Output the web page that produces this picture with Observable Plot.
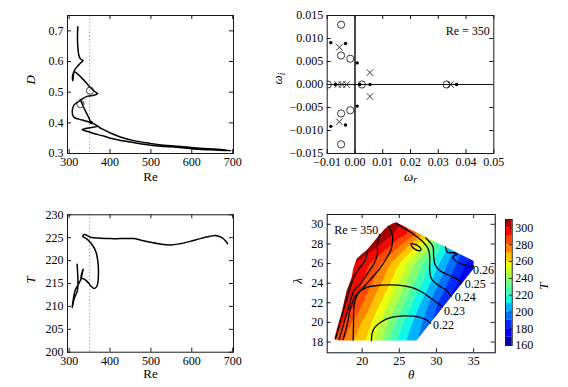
<!DOCTYPE html>
<html>
<head>
<meta charset="utf-8">
<script src="https://cdn.jsdelivr.net/npm/d3@7"></script>
<script src="https://cdn.jsdelivr.net/npm/@observablehq/plot@0.6"></script>
<style>
html,body{margin:0;padding:0;background:#fff;}
#wrap{position:relative;width:568px;height:387px;overflow:hidden;background:#fff;}
#wrap svg, #wrap svg g, #wrap svg text, #wrap svg tspan{font-family:'Liberation Serif','DejaVu Serif',serif !important;}
</style>
</head>
<body>
<div id="wrap"></div>
<script>
// ---------------- data ----------------
const reRef = 350;

// Panel 1: D vs Re (one continuation branch, in path order)
const p1Re = [321.2, 320.4, 321.2, 323.6, 327.7, 334.2, 329.3, 321.2, 314.7, 310.6, 308.1, 309.0, 310.0, 313.0, 321.2, 331.8, 342.3, 352.1, 361.9, 370.0, 360.3, 345.6, 334.2, 326.1, 317.9, 311.4, 308.1, 308.1, 313.0, 323.6, 337.5, 350.5, 361.9, 370.0, 355.0, 331.8, 345.6, 360.3, 384.7, 401.0, 441.7, 482.4, 523.1, 563.8, 604.6, 645.3, 695.8, 661.5, 620.8, 580.1, 539.4, 498.7, 458.0, 425.4, 401.0, 380.6, 370.0, 361.9, 353.7, 348.0, 341.5, 335.8, 330.9, 327.0];
const p1D = [0.713, 0.680, 0.648, 0.621, 0.608, 0.603, 0.597, 0.586, 0.575, 0.563, 0.550, 0.537, 0.550, 0.566, 0.559, 0.545, 0.530, 0.515, 0.503, 0.495, 0.490, 0.487, 0.480, 0.472, 0.465, 0.457, 0.443, 0.428, 0.417, 0.412, 0.407, 0.402, 0.396, 0.389, 0.385, 0.378, 0.372, 0.365, 0.357, 0.350, 0.339, 0.330, 0.324, 0.320, 0.315, 0.312, 0.309, 0.314, 0.317, 0.322, 0.326, 0.333, 0.342, 0.354, 0.367, 0.380, 0.389, 0.396, 0.401, 0.417, 0.434, 0.450, 0.465, 0.476];
const p1CircleRe = [351.0, 327.7];
const p1CircleD = [0.505, 0.461];
const p1DotRe = [353.7];
const p1DotD = [0.401];

// Panel 3: T vs Re
const p3Re = [319.5, 320.4, 313.0, 307.3, 309.8, 314.7, 321.2, 327.7, 334.2, 329.3, 335.8, 345.6, 353.7, 361.9, 368.4, 371.7, 370.0, 364.3, 353.7, 342.3, 333.4, 337.5, 352.1, 376.5, 401.0, 425.4, 458.0, 474.3, 498.7, 523.1, 547.6, 572.0, 596.4, 620.8, 645.3, 657.5, 673.8, 687.6];
const p3T = [219.2, 213.5, 211.9, 209.7, 211.3, 213.5, 214.6, 215.7, 218.1, 216.2, 216.0, 215.3, 214.4, 213.9, 214.5, 217.1, 220.0, 222.2, 223.8, 224.8, 225.3, 225.7, 225.1, 224.9, 224.8, 224.8, 224.8, 224.5, 224.0, 223.6, 223.4, 223.7, 224.2, 224.8, 225.3, 225.5, 225.0, 223.7];

// Panel 2: eigenvalue spectrum at Re = 350
const eigCircleR = [-0.0050, -0.0050, -0.0017, -0.0098, 0.0025, 0.0330, -0.0050, -0.0050, -0.0017];
const eigCircleI = [0.0130, 0.0063, 0.0056, 0.0, 0.0, 0.0, -0.0130, -0.0063, -0.0056];
const eigCrossR = [-0.0056, 0.0054, 0.0054, -0.0056, 0.0344, -0.0062, -0.0047, -0.0030];
const eigCrossI = [0.0081, 0.0026, -0.0026, -0.0081, 0.0, 0.0, 0.0, 0.0];
const eigDotR = [-0.0087, -0.0034, 0.0008, -0.0071, 0.0018, 0.0054, 0.0366, 0.0008, -0.0087, -0.0034];
const eigDotI = [0.0091, 0.0089, 0.0047, 0.0, 0.0, 0.0, 0.0, -0.0047, -0.0091, -0.0088];

// Panel 4: T field (theta, lambda) — position of each T level along rows of constant lambda
const tLevels = [300, 290, 280, 270, 260, 250, 240, 230, 220, 210, 200, 190, 180, 170];
const tThetaLam18 = [15.3, 16.3, 17.45, 18.8, 20.35, 21.5, 22.6, 23.5, 24.6, 25.9, 27.4, 28.8, null, null];
const tThetaLam20 = [16.2, 17.4, 18.6, 19.9, 21.3, 22.4, 23.5, 24.5, 25.6, 26.8, 28.1, 29.4, null, null];
const tThetaLam22 = [18.0, 19.0, 20.1, 21.3, 22.5, 23.6, 24.7, 25.7, 26.8, 27.9, 29.0, 30.2, 31.5, null];
const tThetaLam24 = [18.7, 20.0, 21.3, 22.6, 23.8, 24.9, 26.0, 27.0, 28.1, 29.2, 30.3, 31.5, 32.8, 34.2];
const tThetaLam26 = [19.0, 21.0, 22.5, 23.8, 25.0, 26.1, 27.2, 28.2, 29.3, 30.4, 31.5, 32.7, 34.0, 35.5];
const tThetaLam28 = [22.6, 24.1, 25.4, 26.5, 27.5, 28.4, 29.2, 29.9, 30.7, 31.6, 32.6, null, null, null];
const tThetaLam29 = [24.2, 26.0, 27.2, 28.2, 29.1, 30.0, null, null, null, null, null, null, null, null];
const tRowLambda = [18.0, 20.0, 22.0, 24.0, 26.0, 28.0, 29.0];
const tPeakTheta = [24.5], tPeakLambda = [30.3], tPeakT = [305];

// computed domain outline in (theta, lambda)
const regionTheta = [16.25, 16.8, 17.2, 17.9, 18.6, 18.8, 19.25, 20.0, 20.6, 21.7, 23.05, 24.0, 24.55, 35.0, 35.0, 27.3, 16.9, 16.25];
const regionLambda = [18.35, 19.9, 20.9, 23.2, 24.6, 25.5, 26.5, 27.0, 27.35, 28.35, 29.55, 30.05, 30.2, 26.27, 25.5, 18.15, 18.15, 18.35];

// contour lines of D (black)
const c022Theta = [21.25, 21.34, 21.7, 22.6, 23.94, 25.73, 27.52, 28.64, 29.2];
const c022Lambda = [18.14, 18.88, 19.49, 20.07, 20.5, 20.67, 20.57, 20.24, 19.9];
const c023Theta = [18.79, 18.84, 18.93, 19.46, 20.58, 22.6, 24.84, 26.63, 27.97, 29.31, 30.8];
const c023Lambda = [18.2, 19.9, 21.76, 22.95, 23.56, 23.8, 23.8, 23.56, 23.12, 22.44, 21.59];
const c024Theta = [24.61, 25.73, 27.08, 28.2, 28.87, 29.09, 29.09, 29.31, 30.21, 31.33, 32.0];
const c024Lambda = [30.07, 29.56, 28.88, 28.2, 27.53, 26.68, 25.32, 24.47, 23.8, 23.29, 22.68];
const c025Theta = [28.55, 29.09, 29.54, 29.63, 29.85, 30.57, 31.91, 32.9, 33.35];
const c025Lambda = [28.61, 28.2, 27.69, 26.68, 25.83, 25.22, 24.75, 24.37, 23.97];
const c026Theta = [31.2, 31.5, 32.3, 32.8, 32.2, 32.5, 33.4, 35.0];
const c026Lambda = [27.7, 27.15, 27.1, 26.95, 26.7, 26.3, 25.95, 25.7];
const cLoopTheta = [26.6, 27.3, 27.9, 27.75, 27.15, 26.6, 26.6];
const cLoopLambda = [28.05, 27.9, 27.5, 27.3, 27.45, 27.85, 28.05];
const cLaTheta = [16.42, 17.0, 17.67, 18.43, 19.01, 19.69, 20.36, 20.75];
const cLaLambda = [18.31, 19.9, 21.76, 23.63, 24.81, 25.59, 26.27, 27.3];
const cLbTheta = [16.91, 17.54, 18.25, 18.93, 19.82, 20.72, 21.61, 22.06, 22.06, 22.37];
const cLbLambda = [18.27, 19.9, 21.76, 23.29, 23.97, 24.98, 26.0, 27.02, 28.03, 28.98];
const cLcTheta = [17.45, 18.03, 18.48, 19.1, 20.0, 21.03, 22.37, 23.27, 23.85, 24.08, 24.08, 23.76, 23.5];
const cLcLambda = [18.27, 19.9, 21.59, 22.68, 23.46, 24.31, 25.49, 26.51, 27.36, 28.2, 28.88, 29.55, 29.8];
const cLabelText = ["0.22", "0.23", "0.24", "0.25", "0.26"];
const cLabelTheta = [29.54, 31.02, 32.45, 33.79, 34.91];
const cLabelLambda = [19.73, 21.15, 22.54, 23.86, 25.32];

// colour bands (T) and jet colours
const bandEdges = [160, 170, 180, 190, 200, 210, 220, 230, 240, 250, 260, 270, 280, 290, 300, 310];
const jetColors = ["#0000a6","#0000f4","#002bff","#006eff","#00b3ff","#0ef7e9","#44ffb2","#7bff7b","#b2ff44","#e9ff0e","#ffc600","#ff8700","#ff4800","#f40900","#a60000"];

// ticks
const reTicks = [300, 400, 500, 600, 700];
const dTicks = [0.3, 0.4, 0.5, 0.6, 0.7];
const wrTicks = [-0.01, 0.0, 0.01, 0.02, 0.03, 0.04, 0.05];
const wiTicks = [-0.015, -0.010, -0.005, 0.0, 0.005, 0.010, 0.015];
const tTicks = [200, 205, 210, 215, 220, 225, 230];
const thetaTicks = [20, 25, 30, 35];
const lambdaTicks = [18, 20, 22, 24, 26, 28, 30];
const cbTicks = [160, 180, 200, 220, 240, 260, 280, 300];

// ---------------- build tables ----------------
const zipXY = (X, Y, kx, ky, extra = {}) => X.map((v, i) => ({[kx]: v, [ky]: Y[i], ...extra}));
const p1Line = zipXY(p1Re, p1D, "Re", "D");
const p3Line = zipXY(p3Re, p3T, "Re", "T");

const tRows = [tThetaLam18, tThetaLam20, tThetaLam22, tThetaLam24, tThetaLam26, tThetaLam28, tThetaLam29];
const tSamples = [];
tRows.forEach((row, r) => row.forEach((th, i) => { if (th != null) tSamples.push({theta: th, lambda: tRowLambda[r], T: tLevels[i]}); }));
tPeakTheta.forEach((th, i) => tSamples.push({theta: th, lambda: tPeakLambda[i], T: tPeakT[i]}));

const thetaDomain = [15.3, 37.9];
const lambdaDomain = [16.9, 31.0];
const maskPts = [
  {theta: thetaDomain[0], lambda: lambdaDomain[0]},
  {theta: thetaDomain[1], lambda: lambdaDomain[0]},
  {theta: thetaDomain[1], lambda: lambdaDomain[1]},
  {theta: thetaDomain[0], lambda: lambdaDomain[1]},
  {theta: thetaDomain[0], lambda: lambdaDomain[0]},
  ...zipXY(regionTheta, regionLambda, "theta", "lambda"),
  {theta: thetaDomain[0], lambda: lambdaDomain[0]}
];
const cLines = [
  ...zipXY(c022Theta, c022Lambda, "theta", "lambda", {id: "c022"}),
  ...zipXY(c023Theta, c023Lambda, "theta", "lambda", {id: "c023"}),
  ...zipXY(c024Theta, c024Lambda, "theta", "lambda", {id: "c024"}),
  ...zipXY(c025Theta, c025Lambda, "theta", "lambda", {id: "c025"}),
  ...zipXY(c026Theta, c026Lambda, "theta", "lambda", {id: "c026"}),
  ...zipXY(cLoopTheta, cLoopLambda, "theta", "lambda", {id: "loop"}),
  ...zipXY(cLaTheta, cLaLambda, "theta", "lambda", {id: "la"}),
  ...zipXY(cLbTheta, cLbLambda, "theta", "lambda", {id: "lb"}),
  ...zipXY(cLcTheta, cLcLambda, "theta", "lambda", {id: "lc"})
];
const cLabels = cLabelText.map((t, i) => ({t, theta: cLabelTheta[i], lambda: cLabelLambda[i]}));
const bands = bandEdges.slice(0, -1).map((lo, i) => ({lo, hi: bandEdges[i + 1]}));
const bandLevels = bandEdges.slice(0, -1);

// ---------------- helpers ----------------
const wrap = document.getElementById("wrap");
const INK = "#1a1a1a";
const FONT = "'Liberation Serif', 'DejaVu Serif', serif";
const baseStyle = {fontFamily: FONT, fontSize: "12px", background: "transparent", overflow: "visible", maxWidth: "none"};

function place(svg, left, top) {
  svg.style.position = "absolute";
  svg.style.left = left + "px";
  svg.style.top = top + "px";
  svg.style.background = "transparent";
  svg.style.overflow = "visible";
  svg.style.fontFamily = FONT;
  svg.style.fontSize = "12px";
  svg.style.maxWidth = "none";
  svg.setAttribute("font-family", FONT);
  wrap.appendChild(svg);
}

function box(fw, fh, xTicks, yTicks, xFmt, yFmt) {
  return [
    Plot.frame({stroke: INK, strokeWidth: 1}),
    Plot.tickX(xTicks, {x: d => d, insetTop: fh - 4, stroke: INK}),
    Plot.tickX(xTicks, {x: d => d, insetBottom: fh - 4, stroke: INK}),
    Plot.tickY(yTicks, {y: d => d, insetRight: fw - 4, stroke: INK}),
    Plot.tickY(yTicks, {y: d => d, insetLeft: fw - 4, stroke: INK}),
    Plot.axisX(xTicks, {anchor: "bottom", tickSize: 0, tickPadding: 4, tickFormat: xFmt, label: null, fontFamily: FONT}),
    Plot.axisY(yTicks, {anchor: "left", tickSize: 0, tickPadding: 4, tickFormat: yFmt, label: null, fontFamily: FONT})
  ];
}

// ---------------- panel 1 ----------------
const p1 = Plot.plot({
  width: 284, height: 192, marginLeft: 67, marginRight: 51, marginTop: 15, marginBottom: 39,
  style: baseStyle,
  x: {domain: [296, 702]}, y: {domain: [0.3, 0.75]},
  marks: [
    Plot.ruleX([reRef], {stroke: "#9a9a9a", strokeDasharray: "1.2,2.2", strokeWidth: 1}),
    Plot.line(p1Line, {x: "Re", y: "D", stroke: "black", strokeWidth: 1.5, curve: "catmull-rom"}),
    Plot.dot(zipXY(p1CircleRe, p1CircleD, "Re", "D"), {x: "Re", y: "D", r: 3.6, stroke: "#333", strokeWidth: 0.9, fill: "none"}),
    Plot.dot(zipXY(p1DotRe, p1DotD, "Re", "D"), {x: "Re", y: "D", r: 1.8, fill: "black"}),
    ...box(166, 138, reTicks, dTicks, d3.format("d"), d3.format(".1f")),
    Plot.text(["D"], {text: d => d, frameAnchor: "left", dx: -37, rotate: -90, fontStyle: "italic", fontSize: 13, fontFamily: FONT}),
    Plot.text(["Re"], {text: d => d, frameAnchor: "bottom", dy: 27, fontSize: 13, fontFamily: FONT})
  ]
});
place(p1, 0, 0);

// ---------------- panel 2 ----------------
const p2 = Plot.plot({
  width: 312, height: 192, marginLeft: 70.7, marginRight: 74.7, marginTop: 15, marginBottom: 39,
  style: baseStyle,
  x: {domain: [-0.01, 0.05]}, y: {domain: [-0.015, 0.015]},
  marks: [
    Plot.ruleX([0], {stroke: "#4a4a4a", strokeWidth: 2}),
    Plot.ruleY([0], {stroke: "#111", strokeWidth: 1.2}),
    Plot.dot(zipXY(eigCircleR, eigCircleI, "r", "i"), {x: "r", y: "i", r: 3.6, stroke: "#222", strokeWidth: 0.9, fill: "none", clip: true}),
    Plot.dot(zipXY(eigCrossR, eigCrossI, "r", "i"), {x: "r", y: "i", r: 3.1, symbol: "times", stroke: "#222", strokeWidth: 0.9, clip: true}),
    Plot.dot(zipXY(eigDotR, eigDotI, "r", "i"), {x: "r", y: "i", r: 1.7, fill: "black", clip: true}),
    ...box(166.6, 138, wrTicks, wiTicks, d3.format(".2f"), d3.format(".3f")),
    Plot.text(["Re = " + reRef], {text: d => d, frameAnchor: "top-right", textAnchor: "end", dx: -4, dy: 11, fontSize: 12, fontFamily: FONT}),
    Plot.text(["ω_i"], {text: d => d, frameAnchor: "left", dx: -49.7, rotate: -90, fontStyle: "italic", fontSize: 13, fontFamily: FONT}),
    Plot.text(["ω_r"], {text: d => d, frameAnchor: "bottom", dy: 27, fontStyle: "italic", fontSize: 13, fontFamily: FONT})
  ]
});
place(p2, 256, 0);

// ---------------- panel 3 ----------------
const p3 = Plot.plot({
  width: 284, height: 195, marginLeft: 67, marginRight: 51, marginTop: 22.3, marginBottom: 35.3,
  style: baseStyle,
  x: {domain: [296, 702]}, y: {domain: [200, 230]},
  marks: [
    Plot.ruleX([reRef], {stroke: "#9a9a9a", strokeDasharray: "1.2,2.2", strokeWidth: 1}),
    Plot.line(p3Line, {x: "Re", y: "T", stroke: "black", strokeWidth: 1.5, curve: "catmull-rom"}),
    ...box(166, 137.4, reTicks, tTicks, d3.format("d"), d3.format("d")),
    Plot.text(["T"], {text: d => d, frameAnchor: "left", dx: -37, rotate: -90, fontStyle: "italic", fontSize: 13, fontFamily: FONT}),
    Plot.text(["Re"], {text: d => d, frameAnchor: "bottom", dy: 26, fontSize: 13, fontFamily: FONT})
  ]
});
place(p3, 0, 192);

// ---------------- panel 4 ----------------
const colorOpts = {type: "ordinal", domain: bandLevels, range: jetColors};
const p4 = Plot.plot({
  width: 312, height: 195, marginLeft: 70.7, marginRight: 73.3, marginTop: 22, marginBottom: 34.7,
  style: baseStyle,
  x: {domain: thetaDomain}, y: {domain: lambdaDomain},
  color: colorOpts,
  marks: [
    Plot.contour(tSamples, {
      x: "theta", y: "lambda", fill: "T", interpolate: "barycentric",
      thresholds: bandLevels, pixelSize: 1, stroke: "none",
      x1: thetaDomain[0], x2: thetaDomain[1], y1: lambdaDomain[0], y2: lambdaDomain[1]
    }),
    Plot.line(maskPts, {x: "theta", y: "lambda", fill: "white", stroke: "none", curve: "linear"}),
    Plot.line(cLines, {x: "theta", y: "lambda", z: "id", stroke: "black", strokeWidth: 1.3, curve: "catmull-rom"}),
    Plot.text(cLabels, {x: "theta", y: "lambda", text: "t", textAnchor: "start", fontSize: 12, fontFamily: FONT}),
    ...box(168, 138.3, thetaTicks, lambdaTicks, d3.format("d"), d3.format("d")),
    Plot.text(["Re = " + reRef], {text: d => d, frameAnchor: "top-left", textAnchor: "start", dx: 7, dy: 11, fontSize: 12, fontFamily: FONT}),
    Plot.text(["λ"], {text: d => d, frameAnchor: "left", dx: -29.7, rotate: -90, fontStyle: "italic", fontSize: 13, fontFamily: FONT}),
    Plot.text(["θ"], {text: d => d, frameAnchor: "bottom", dy: 26, fontStyle: "italic", fontSize: 13, fontFamily: FONT})
  ]
});
place(p4, 256, 192);

// ---------------- colour bar ----------------
const cb = Plot.plot({
  width: 73, height: 195, marginLeft: 10, marginRight: 56.3, marginTop: 27, marginBottom: 42,
  style: baseStyle,
  x: {domain: [0, 1], axis: null}, y: {domain: [bandEdges[0], bandEdges[bandEdges.length - 1]]},
  color: colorOpts,
  marks: [
    Plot.rect(bands, {x1: () => 0, x2: () => 1, y1: "lo", y2: "hi", fill: "lo"}),
    Plot.frame({stroke: INK, strokeWidth: 1}),
    Plot.tickY(cbTicks, {y: d => d, insetLeft: 4, stroke: INK}),
    Plot.axisY(cbTicks, {anchor: "right", tickSize: 0, tickPadding: 3, label: null, fontFamily: FONT}),
    Plot.text(["T"], {text: d => d, frameAnchor: "right", dx: 32, rotate: -90, fontStyle: "italic", fontSize: 13, fontFamily: FONT})
  ]
});
place(cb, 495, 192);

// subscripts for ω labels
wrap.querySelectorAll("text, tspan").forEach(el => {
  const s = el.textContent;
  if ((s === "ω_r" || s === "ω_i") && el.children.length === 0) {
    el.textContent = "ω";
    const sub = document.createElementNS("http://www.w3.org/2000/svg", "tspan");
    sub.setAttribute("dy", "0.3em");
    sub.setAttribute("font-size", "9.5");
    sub.textContent = s.slice(2);
    el.appendChild(sub);
  }
});
</script>
</body>
</html>
